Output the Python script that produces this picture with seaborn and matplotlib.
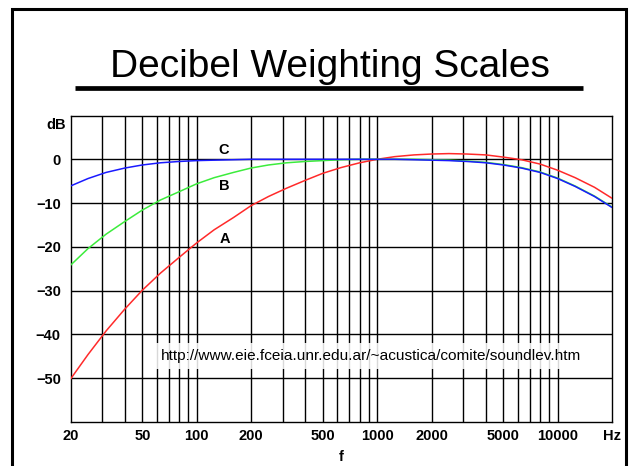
import numpy as np
import pandas as pd
import matplotlib
matplotlib.use("Agg")
import matplotlib.pyplot as plt
import seaborn as sns
from matplotlib.patches import Rectangle
from matplotlib.lines import Line2D
from matplotlib.ticker import NullLocator

# ---- data ----
freqs = [20, 25, 31.5, 40, 50, 63, 80, 100, 125, 160, 200, 250, 315, 400, 500,
         630, 800, 1000, 1250, 1600, 2000, 2500, 3150, 4000, 5000, 6300, 8000,
         10000, 12500, 16000, 20000]
a_weight = [-50.2, -44.6, -39.2, -34.2, -29.9, -26.0, -22.4, -19.1, -16.1, -13.3,
            -10.6, -8.5, -6.6, -4.8, -3.2, -1.9, -0.8, 0.0, 0.6, 1.0, 1.2, 1.3,
            1.2, 1.0, 0.5, -0.1, -1.1, -2.5, -4.2, -6.4, -8.9]
b_weight = [-24.2, -20.4, -17.1, -14.2, -11.6, -9.3, -7.4, -5.6, -4.2, -3.0,
            -2.0, -1.3, -0.8, -0.5, -0.3, -0.1, 0.0, 0.0, 0.0, 0.0, -0.1, -0.2,
            -0.4, -0.7, -1.2, -1.9, -2.9, -4.3, -6.1, -8.4, -10.9]
c_weight = [-6.1, -4.4, -3.0, -2.0, -1.3, -0.8, -0.5, -0.3, -0.2, -0.1, 0.0,
            0.0, 0.0, 0.0, 0.0, 0.0, 0.0, 0.0, 0.0, -0.1, -0.2, -0.3, -0.5,
            -0.8, -1.3, -2.0, -3.0, -4.4, -6.2, -8.5, -11.0]
curve_names = ["A", "B", "C"]
curve_colors = ["#ff2a2a", "#3cec3c", "#1a1aff"]
curve_label_pos = [(143, -18.2), (143, -6.1), (141, 2.1)]

x_ticks = [20, 50, 100, 200, 500, 1000, 2000, 5000, 10000, 20000]
x_tick_labels = ["20", "50", "100", "200", "500", "1000", "2000", "5000", "10000", "Hz"]
y_ticks = [0, -10, -20, -30, -40, -50]
y_tick_labels = ["0", "\u221210", "\u221220", "\u221230", "\u221240", "\u221250"]
grid_freqs = [30, 40, 50, 60, 70, 80, 90, 100,
              200, 300, 400, 500, 600, 700, 800, 900, 1000,
              2000, 3000, 4000, 5000, 6000, 7000, 8000, 9000, 10000]

title = "Decibel Weighting Scales"
url = "http://www.eie.fceia.unr.edu.ar/~acustica/comite/soundlev.htm"

# ---- style ----
sns.set_theme(style="white")
plt.rcParams['font.family'] = ['Liberation Sans', 'DejaVu Sans']

W, H = 629, 466
fig = plt.figure(figsize=(W / 100, H / 100), dpi=100)
fig.patch.set_facecolor("white")

ax_l, ax_r, ax_t, ax_b = 70.5, 612, 115.5, 422
ax = fig.add_axes([ax_l / W, (H - ax_b) / H, (ax_r - ax_l) / W, (ax_b - ax_t) / H])
ax.set_facecolor("white")

df = pd.DataFrame({
    "f": freqs * 3,
    "dB": a_weight + b_weight + c_weight,
    "curve": ["A"] * len(freqs) + ["B"] * len(freqs) + ["C"] * len(freqs),
})
sns.lineplot(data=df, x="f", y="dB", hue="curve",
             palette=dict(zip(curve_names, curve_colors)),
             linewidth=1.1, legend=False, ax=ax, zorder=3)

ax.set_xscale("log")
ax.set_xlim(20, 20000)
ax.set_ylim(-60, 10)

for g in grid_freqs:
    ax.axvline(g, color="black", lw=1.0, zorder=1)
for y in y_ticks:
    ax.axhline(y, color="black", lw=1.0, zorder=1)

ax.set_xticks(x_ticks)
ax.set_xticklabels(x_tick_labels)
ax.xaxis.set_minor_locator(NullLocator())
ax.set_yticks(y_ticks)
ax.set_yticklabels(y_tick_labels)
ax.tick_params(axis="x", length=0, labelsize=10.5, pad=5, colors="black")
ax.tick_params(axis="y", length=0, labelsize=10.5, pad=7, colors="black")
for lab in ax.get_xticklabels() + ax.get_yticklabels():
    lab.set_fontweight("bold")

for s in ax.spines.values():
    s.set_color("black")
    s.set_linewidth(1.0)
    s.set_visible(True)

ax.set_xlabel("f", fontsize=10.5, fontweight="bold", color="black")
ax.xaxis.set_label_coords((341 - ax_l) / (ax_r - ax_l), (ax_b - 450) / (ax_b - ax_t))
ax.set_ylabel("")
ax.text(-0.009, (ax_b - 125) / (ax_b - ax_t), "dB", transform=ax.transAxes,
        ha="right", va="center", fontsize=10.5, fontweight="bold", color="black")

for name, (fx, fy) in zip(curve_names, curve_label_pos):
    ax.text(fx, fy, name, ha="center", va="center", fontsize=10.5,
            fontweight="bold", color="black", zorder=4)

# URL text with white box
fig.text(370.5 / W, (H - 356) / H, url, ha="center", va="center", fontsize=11.1,
         color="black", zorder=5,
         bbox=dict(facecolor="white", edgecolor="none", alpha=0.85, pad=4))

# Title and underline
fig.text(330 / W, (H - 77) / H, title, ha="center", va="baseline",
         fontsize=28, color="black")
fig.add_artist(Line2D([75 / W, 583 / W], [(H - 88) / H, (H - 88) / H],
                      transform=fig.transFigure, color="black", lw=3.4,
                      solid_capstyle="butt"))

# Outer slide frame
fig.add_artist(Rectangle((11.5 / W, -0.05), (625.5 - 11.5) / W, (H - 8.5) / H + 0.05,
                         transform=fig.transFigure, fill=False,
                         edgecolor="black", lw=2.2))

fig.savefig("out.png", dpi=100, facecolor="white")
